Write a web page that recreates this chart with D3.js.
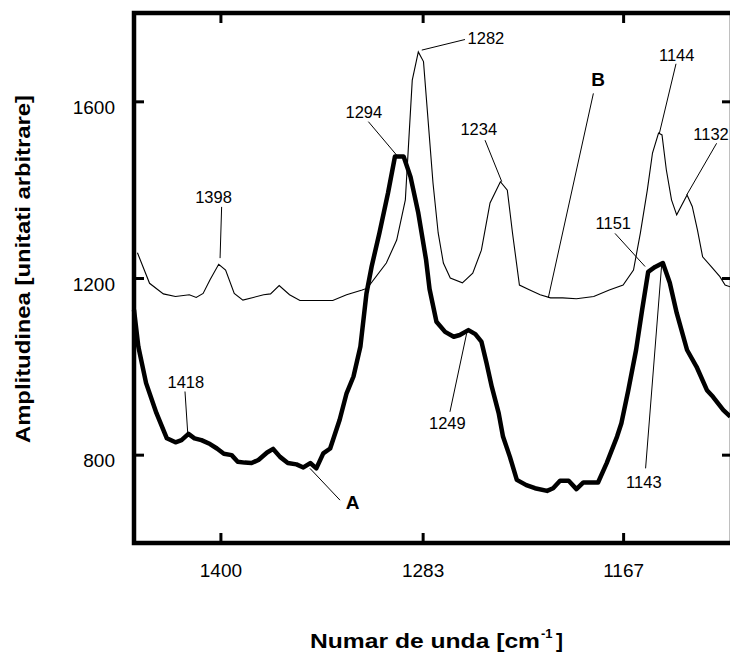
<!DOCTYPE html>
<html>
<head>
<meta charset="utf-8">
<script src="https://cdn.jsdelivr.net/npm/d3@7"></script>
<style>
  body { margin: 0; background: #fff; }
  text { font-family: "Liberation Sans", Arial, Helvetica, sans-serif; fill: #000; }
</style>
</head>
<body>
<div id="chart"></div>
<script>
// Spectrum A (thick line): wavenumber / amplitude
const waveA = [1450, 1447.5, 1443, 1437, 1431, 1426, 1422.5, 1418.5, 1415, 1411,
  1406, 1402, 1398, 1393.5, 1390, 1386, 1382, 1378, 1373, 1369.5,
  1365.5, 1361, 1356, 1352, 1348, 1344.5, 1340.5, 1336.5, 1331, 1327,
  1323, 1319, 1315.5, 1312.5, 1308, 1303, 1299, 1294, 1290, 1285.5,
  1281, 1279, 1275, 1270, 1265, 1261.5, 1256.5, 1252.5, 1249, 1246,
  1243, 1239, 1236.5, 1232.5, 1228.5, 1223, 1218, 1211, 1207.5, 1203.5,
  1198.5, 1194, 1190, 1186, 1181.5, 1176.5, 1170.5, 1168, 1164, 1159.5,
  1156, 1152.5, 1148.5, 1144, 1140, 1136, 1130, 1124.5, 1118.5, 1115,
  1109, 1105];
const ampA = [1128, 1045, 962, 894, 837, 828, 833, 847, 837, 833,
  824, 814, 802, 799, 784, 782, 781, 788, 805, 813,
  795, 781, 778, 771, 781, 769, 803, 814, 879, 939,
  977, 1045, 1165, 1226, 1302, 1393, 1475, 1475, 1429, 1347,
  1241, 1175, 1101, 1078, 1067, 1071, 1082, 1073, 1056, 1007,
  954, 894, 841, 795, 743, 731, 724, 718, 724, 741,
  741, 722, 737, 737, 737, 781, 841, 871, 946, 1037,
  1128, 1214, 1225, 1234, 1189, 1121, 1037, 999, 946, 931,
  901, 886];

// Spectrum B (thin line)
const waveB = [1448, 1441, 1433, 1426, 1418, 1414, 1410, 1406, 1401, 1397,
  1392, 1387, 1381, 1375, 1371, 1366, 1360, 1354, 1346, 1335,
  1327, 1318, 1315, 1304, 1298, 1293, 1289, 1285.5, 1282.5, 1277,
  1274, 1271, 1267, 1260, 1254, 1249, 1244, 1238, 1234, 1231,
  1227, 1221, 1215, 1209, 1202, 1194, 1184, 1175, 1167, 1161,
  1157, 1153, 1150, 1146.5, 1144.5, 1142, 1139, 1136, 1130, 1127,
  1124, 1121, 1116, 1111, 1108, 1105];
const ampB = [1257, 1188, 1164, 1158, 1162, 1156, 1165, 1196, 1231, 1218,
  1165, 1150, 1156, 1162, 1164, 1183, 1162, 1149, 1149, 1149,
  1162, 1173, 1177, 1234, 1286, 1377, 1648, 1712, 1690, 1415,
  1302, 1234, 1200, 1189, 1211, 1263, 1370, 1418, 1399, 1302,
  1184, 1173, 1162, 1155, 1155, 1153, 1158, 1173, 1184, 1218,
  1302, 1399, 1483, 1528, 1524, 1445, 1377, 1343, 1388, 1362,
  1309, 1248, 1226, 1203, 1184, 1180];

const xTicks = [1400, 1283, 1167];
const yTicks = [800, 1200, 1600];

// Peak labels: text position and leader line (wavenumber, amplitude)
const noteLabels = ["1398", "1294", "1282", "1234", "B", "1144", "1132", "1151", "1143", "1249", "1418", "A"];
const noteText = [[1404, 1369], [1317, 1562], [1257, 1729], [1250.5, 1524], [1181.5, 1635], [1136, 1692],
  [1126.4, 1512], [1172.7, 1310], [1155, 724], [1268.7, 857], [1420, 950], [1323.5, 676]];
const noteFrom = [[1399.3, 1361], [1314.4, 1554], [1258.5, 1740], [1246.9, 1512], [1184.2, 1618], [1136.4, 1685],
  [1112.9, 1505], [1171.7, 1301], [1154, 769], [1267.2, 897], [1420.5, 943], [1330.8, 697]];
const noteTo = [[1400.2, 1245], [1298, 1478], [1283.5, 1716], [1237.2, 1418], [1210.3, 1155], [1146, 1528],
  [1130.2, 1388], [1154.3, 1226], [1144.7, 1230], [1257.5, 1075], [1418.9, 848], [1348.2, 769]];
const noteAnchor = ["middle", "middle", "start", "middle", "middle", "middle", "start", "middle", "middle", "middle", "middle", "middle"];

const width = 730;
const height = 657;
const margin = {left: 134, right: -2, top: 13, bottom: 114};

const svg = d3.select("#chart")
  .append("svg")
  .attr("width", width)
  .attr("height", height);

// reversed wavenumber axis
const xScale = d3.scaleLinear()
  .domain([1450, 1104])
  .range([margin.left, width - margin.right]);

const yScale = d3.scaleLinear()
  .domain([600, 1800])
  .range([height - margin.bottom, margin.top]);

// axes with inward ticks
const axBottom = svg.append("g")
  .attr("transform", `translate(0,${height - margin.bottom})`)
  .call(d3.axisBottom(xScale).tickValues(xTicks).tickSize(-10).tickPadding(21).tickFormat(d3.format("d")));
const axTop = svg.append("g")
  .attr("transform", `translate(0,${margin.top})`)
  .call(d3.axisTop(xScale).tickValues(xTicks).tickSize(-10).tickFormat(""));
const axLeft = svg.append("g")
  .attr("transform", `translate(${margin.left},0)`)
  .call(d3.axisLeft(yScale).tickValues(yTicks).tickSize(-10).tickPadding(19).tickFormat(d3.format("d")));
const axRight = svg.append("g")
  .attr("transform", `translate(${width - margin.right},0)`)
  .call(d3.axisRight(yScale).tickValues(yTicks).tickSize(-10).tickFormat(""));

[axBottom, axTop, axLeft, axRight].forEach(g => {
  g.select(".domain").remove();
  g.selectAll(".tick line").attr("stroke", "#000").attr("stroke-width", 3);
  g.selectAll(".tick text").attr("font-size", "19px").attr("font-family", "Liberation Sans, Arial, sans-serif");
});
axLeft.selectAll(".tick text").attr("y", 6);

// frame
svg.append("rect")
  .attr("x", margin.left)
  .attr("y", margin.top)
  .attr("width", width - margin.right - margin.left)
  .attr("height", height - margin.bottom - margin.top)
  .attr("fill", "none")
  .attr("stroke", "#000")
  .attr("stroke-width", 4.5);

// spectra
const line = d3.line()
  .x(d => xScale(d[0]))
  .y(d => yScale(d[1]));

svg.append("path")
  .datum(d3.zip(waveB, ampB))
  .attr("d", line)
  .attr("fill", "none")
  .attr("stroke", "#000")
  .attr("stroke-width", 1.1);

svg.append("path")
  .datum(d3.zip(waveA, ampA))
  .attr("d", line)
  .attr("fill", "none")
  .attr("stroke", "#000")
  .attr("stroke-width", 4.5)
  .attr("stroke-linejoin", "round");

// peak labels
svg.selectAll(".leader")
  .data(noteLabels)
  .enter()
  .append("line")
  .attr("class", "leader")
  .attr("x1", (d, i) => xScale(noteFrom[i][0]))
  .attr("y1", (d, i) => yScale(noteFrom[i][1]))
  .attr("x2", (d, i) => xScale(noteTo[i][0]))
  .attr("y2", (d, i) => yScale(noteTo[i][1]))
  .attr("stroke", "#000")
  .attr("stroke-width", 1);

svg.selectAll(".note")
  .data(noteLabels)
  .enter()
  .append("text")
  .attr("class", "note")
  .attr("x", (d, i) => xScale(noteText[i][0]))
  .attr("y", (d, i) => yScale(noteText[i][1]))
  .attr("text-anchor", (d, i) => noteAnchor[i])
  .attr("font-size", d => d.length === 1 ? "19px" : "16.5px")
  .attr("font-weight", d => d.length === 1 ? "bold" : "normal")
  .text(d => d);

// axis titles
svg.append("text")
  .attr("x", 310)
  .attr("y", 648)
  .attr("font-size", "21px")
  .attr("font-weight", "bold")
  .attr("textLength", 230)
  .attr("lengthAdjust", "spacingAndGlyphs")
  .text("Numar de unda [cm");
svg.append("text")
  .attr("x", 541)
  .attr("y", 638)
  .attr("font-size", "13px")
  .attr("font-weight", "bold")
  .text("-1");
svg.append("text")
  .attr("x", 556)
  .attr("y", 648)
  .attr("font-size", "21px")
  .attr("font-weight", "bold")
  .text("]");

svg.append("text")
  .attr("transform", "translate(30,269) rotate(-90)")
  .attr("text-anchor", "middle")
  .attr("font-size", "21px")
  .attr("font-weight", "bold")
  .attr("textLength", 348)
  .attr("lengthAdjust", "spacingAndGlyphs")
  .text("Amplitudinea [unitati arbitrare]");
</script>
</body>
</html>
